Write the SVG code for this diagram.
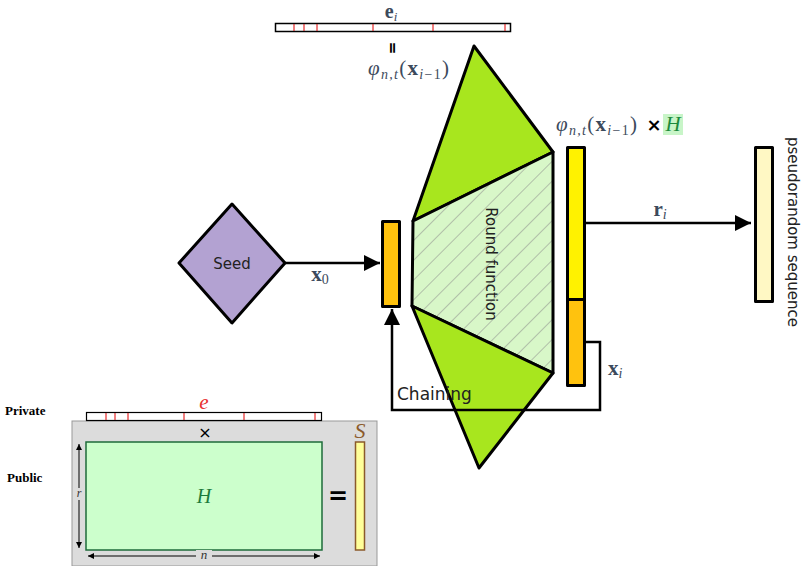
<svg xmlns="http://www.w3.org/2000/svg" width="804" height="566" viewBox="0 0 804 566">
<defs>
<pattern id="hatch" width="14" height="14" patternUnits="userSpaceOnUse" patternTransform="rotate(45)">
<rect width="14" height="14" fill="#d8f7c8"/>
<line x1="0" y1="0" x2="0" y2="14" stroke="#888" stroke-width="1"/>
</pattern>
<marker id="ah" viewBox="0 0 10 10" refX="10" refY="5" markerWidth="16" markerHeight="16" markerUnits="userSpaceOnUse" orient="auto">
<path d="M0,0 L10,5 L0,10 z" fill="#000"/>
</marker>
<marker id="sa" viewBox="0 0 10 10" refX="10" refY="5" markerWidth="6" markerHeight="6" markerUnits="userSpaceOnUse" orient="auto-start-reverse">
<path d="M0,0 L10,5 L0,10 z" fill="#000"/>
</marker>
</defs>
<style>
.k{stroke:#000;stroke-width:3;stroke-linejoin:round}
.g{fill:#a8e61e}
.ln{fill:none;stroke:#000;stroke-width:2.5}
.sans{font-family:"DejaVu Sans","Liberation Sans",sans-serif;fill:#222}
.m{font-family:"Liberation Serif","DejaVu Serif",serif;fill:#3c4a5c}
.b{font-weight:bold}
.i{font-style:italic}
.tick{stroke:#e00000;stroke-width:1}
</style>

<g id="connectors">
<line class="ln" x1="284" y1="263" x2="380" y2="263" marker-end="url(#ah)"/>
<line class="ln" x1="585" y1="223" x2="751" y2="223" marker-end="url(#ah)"/>
</g>

<g id="seed">
<polygon points="232,204 285,263 232,323 179,263" fill="#b3a2d2" class="k"/>
<text x="232" y="269" text-anchor="middle" class="sans" font-size="15">Seed</text>
</g>
<text x="320" y="281" text-anchor="middle" class="m b" font-size="21">x<tspan font-size="14" dy="3" font-weight="normal">0</tspan></text>

<g id="input">
<rect x="382.5" y="221.5" width="17" height="85" fill="#ffc20e" class="k"/>
</g>

<g id="round">
<polygon points="474,46 553,152 413,221" class="g k"/>
<polygon points="413,221 553,152 553,373 412,306" fill="url(#hatch)" class="k"/>
<text transform="translate(486,264) rotate(90)" text-anchor="middle" class="sans" font-size="15">Round function</text>
</g>

<g id="chain">
<polygon points="412,306 553,373 479,468" class="g k"/>
<text x="397" y="400" class="sans" font-size="17">Chaining</text>
<polyline class="ln" points="585,342 600,342 600,410 392,410 392,309" marker-end="url(#ah)"/>
</g>

<g id="out">
<rect x="567.5" y="147.5" width="17" height="152" fill="#fff200" class="k"/>
<rect x="567.5" y="299.5" width="17" height="86" fill="#ffc20e" class="k"/>
</g>
<text x="660" y="216" text-anchor="middle" class="m b" font-size="21">r<tspan font-size="14" dy="3" font-weight="normal" font-style="italic">i</tspan></text>
<text x="608" y="375" class="m b" font-size="21">x<tspan font-size="14" dy="3" font-weight="normal" font-style="italic">i</tspan></text>

<g id="prng">
<rect x="755.5" y="147.5" width="17" height="154" fill="#fff8c4" class="k"/>
<text transform="translate(788,232) rotate(90)" text-anchor="middle" class="sans" font-size="15">pseudorandom sequence</text>
</g>

<g id="ei">
<rect x="275.5" y="23.5" width="235" height="8" fill="#fff" stroke="#000" stroke-width="1.5"/>
<line class="tick" x1="294" y1="24" x2="294" y2="31"/>
<line class="tick" x1="304" y1="24" x2="304" y2="31"/>
<line class="tick" x1="317" y1="24" x2="317" y2="31"/>
<line class="tick" x1="373" y1="24" x2="373" y2="31"/>
<line class="tick" x1="433" y1="24" x2="433" y2="31"/>
<line class="tick" x1="505" y1="24" x2="505" y2="31"/>
<text x="391" y="18" text-anchor="middle" class="m b" font-size="20">e<tspan font-size="13" dy="3" font-weight="normal" font-style="italic">i</tspan></text>
<text transform="translate(388,48) rotate(90)" text-anchor="middle" font-family="DejaVu Sans, sans-serif" font-weight="bold" font-size="15" fill="#000">=</text>
<text x="368" y="75" class="m" font-size="21" letter-spacing="1.3"><tspan font-style="italic">φ</tspan><tspan font-size="14" dy="4" font-style="italic">n,t</tspan><tspan dy="-4">(</tspan><tspan font-weight="bold">x</tspan><tspan font-size="14" dy="4" font-style="italic">i</tspan><tspan font-size="14">−1</tspan><tspan dy="-4">)</tspan></text>
</g>

<g id="phiH">
<rect x="663" y="114" width="20" height="21" fill="#c8f5c8"/>
<text x="556" y="131" class="m" font-size="21" letter-spacing="1.3"><tspan font-style="italic">φ</tspan><tspan font-size="14" dy="4" font-style="italic">n,t</tspan><tspan dy="-4">(</tspan><tspan font-weight="bold">x</tspan><tspan font-size="14" dy="4" font-style="italic">i</tspan><tspan font-size="14">−1</tspan><tspan dy="-4">)</tspan></text>
<text x="654" y="131" text-anchor="middle" font-family="DejaVu Sans, sans-serif" font-weight="bold" font-size="18" fill="#000">×</text>
<text x="673" y="131" text-anchor="middle" font-family="Liberation Serif, serif" font-style="italic" font-size="21" fill="#1c8a3c">H</text>
</g>

<g id="mceliece">
<rect x="72" y="421" width="305" height="145" fill="#dcdcdc" stroke="#999" stroke-width="1"/>
<rect x="86.5" y="412.5" width="235" height="8" fill="#fff" stroke="#000" stroke-width="1.2"/>
<line class="tick" x1="106" y1="413" x2="106" y2="420"/>
<line class="tick" x1="115" y1="413" x2="115" y2="420"/>
<line class="tick" x1="128" y1="413" x2="128" y2="420"/>
<line class="tick" x1="184" y1="413" x2="184" y2="420"/>
<line class="tick" x1="244" y1="413" x2="244" y2="420"/>
<line class="tick" x1="315" y1="413" x2="315" y2="420"/>
<text x="204" y="409" text-anchor="middle" font-family="Liberation Serif, serif" font-style="italic" font-size="21" fill="#e83030">e</text>
<text x="205" y="438" text-anchor="middle" font-family="DejaVu Sans, sans-serif" font-size="16" fill="#000">×</text>
<rect x="86" y="442" width="236" height="108" fill="#ccffcc" stroke="#1e6b3a" stroke-width="1.5"/>
<text x="204" y="503" text-anchor="middle" font-family="Liberation Serif, serif" font-style="italic" font-size="20" fill="#1c7a3c">H</text>
<line x1="79" y1="444" x2="79" y2="548" stroke="#000" stroke-width="1" marker-start="url(#sa)" marker-end="url(#sa)"/>
<rect x="75" y="488" width="8" height="12" fill="#dcdcdc"/>
<text x="79" y="497" text-anchor="middle" font-family="Liberation Serif, serif" font-style="italic" font-size="12" fill="#333">r</text>
<line x1="88" y1="556" x2="320" y2="556" stroke="#000" stroke-width="1" marker-start="url(#sa)" marker-end="url(#sa)"/>
<rect x="196" y="550" width="16" height="10" fill="#dcdcdc"/>
<text x="204" y="559" text-anchor="middle" font-family="Liberation Serif, serif" font-style="italic" font-size="13" fill="#333">n</text>
<text x="338" y="504" text-anchor="middle" font-family="DejaVu Sans, sans-serif" font-size="24" font-weight="bold" fill="#000">=</text>
<rect x="355.5" y="442" width="9" height="108" fill="#ffff99" stroke="#8b5a2b" stroke-width="1.5"/>
<text x="360" y="438" text-anchor="middle" font-family="Liberation Serif, serif" font-style="italic" font-size="22" fill="#8b5a2b">S</text>
</g>
<text x="5" y="415" font-family="Liberation Serif, serif" font-weight="bold" font-size="13" fill="#000">Private</text>
<text x="7" y="482" font-family="Liberation Serif, serif" font-weight="bold" font-size="13" fill="#000">Public</text>
</svg>
